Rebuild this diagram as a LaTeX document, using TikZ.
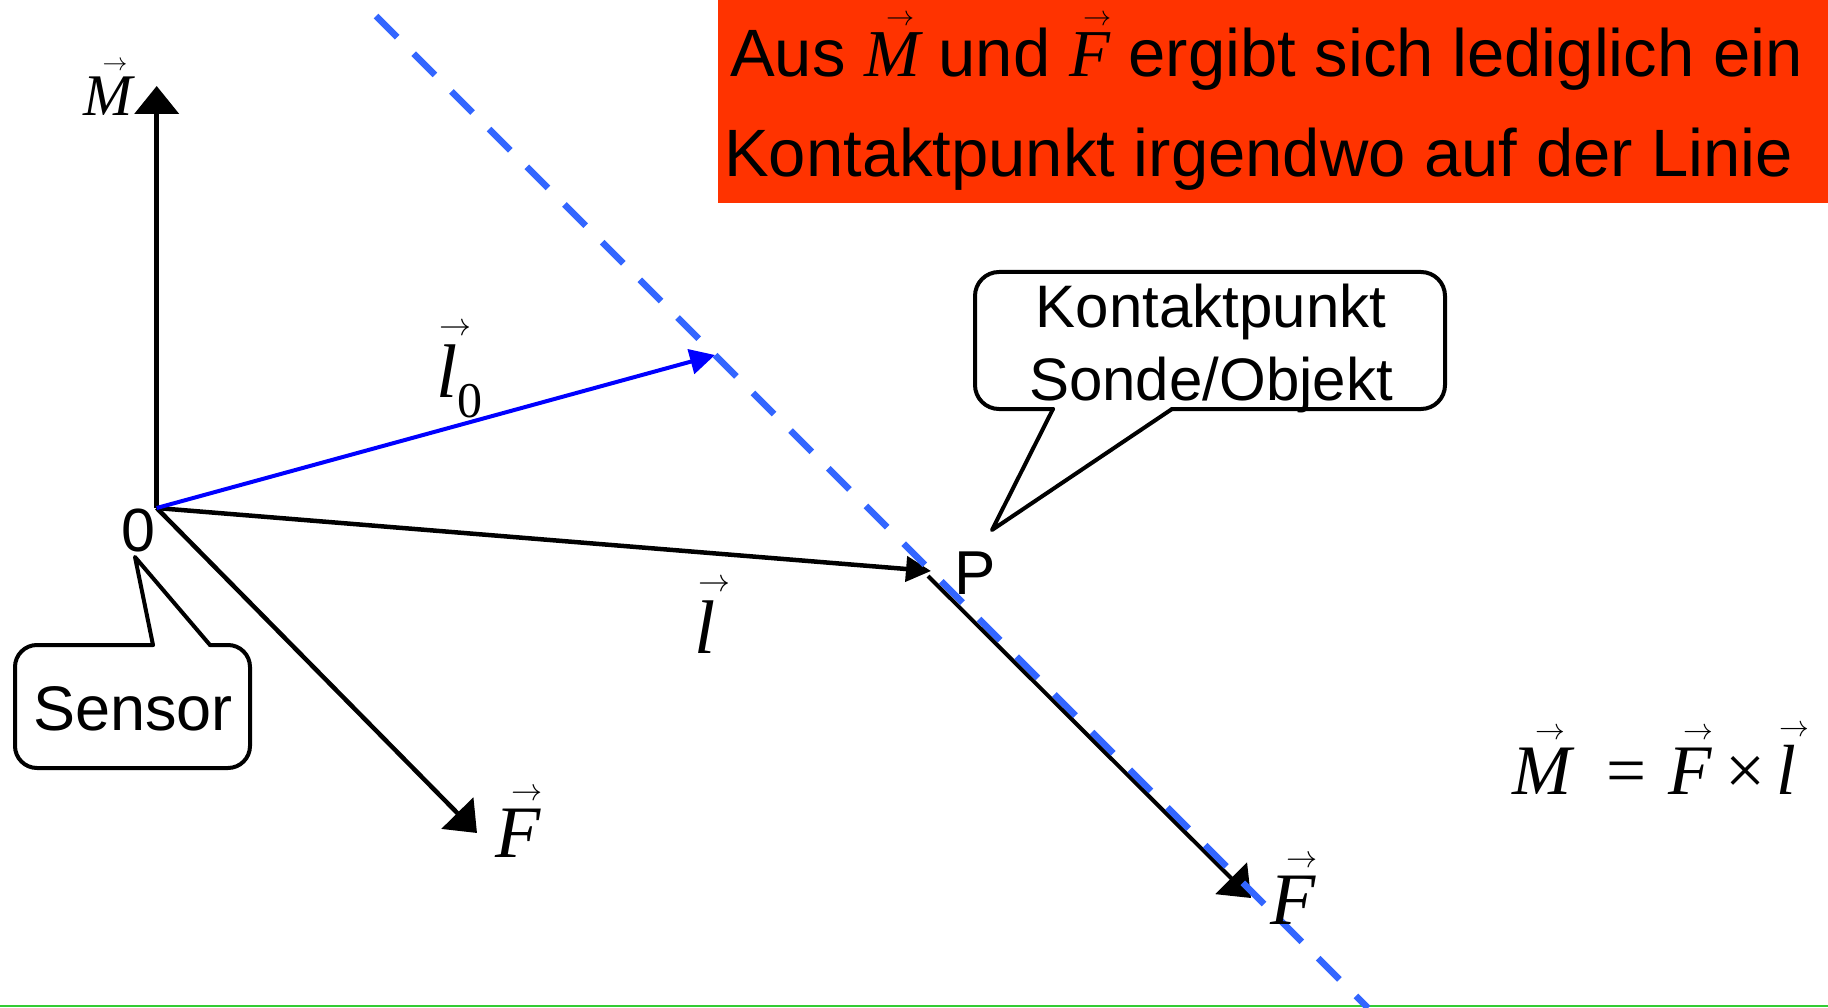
\documentclass[tikz,border=0pt]{standalone}
\usepackage{fontspec}
\usepackage{graphicx}
\setmainfont{Liberation Sans}
\newfontfamily\tms{Liberation Serif}
\usetikzlibrary{arrows.meta}
\definecolor{redbox}{HTML}{FF3300}
\definecolor{dashblue}{HTML}{3366FF}
\definecolor{lblue}{HTML}{0000FF}
\definecolor{gline}{HTML}{33CC33}
\newcommand\fs[1]{\fontsize{#1}{#1}\selectfont}
\newsavebox\vecglyph
\newcommand\vecit[1]{\leavevmode\sbox\vecglyph{\tms\itshape #1}%
  \rlap{\hbox to \wd\vecglyph{\hss\raisebox{\dimexpr\ht\vecglyph+0.11em\relax}{\resizebox{0.42em}{!}{$\rightarrow$}}\hss\kern-0.24em}}%
  \usebox\vecglyph\relax}
\begin{document}
\begin{tikzpicture}[x=1pt,y=-1pt,
  lbl/.style={inner sep=0pt, anchor=base},
  bigtip/.style={-{Triangle[length=28pt,width=44pt]}},
  smalltip/.style={-{Triangle[length=25pt,width=25pt]}},
  vecline/.style={line width=4.5pt},
  callout/.style={line width=4pt, line cap=round, line join=round},
  dashline/.style={dashblue, line width=6.5pt, dash pattern=on 30pt off 23.3pt}]
\useasboundingbox (0,0) rectangle (1828,1008);
% red box
\fill[redbox] (718,0) rectangle (1828,203);
\node[lbl, anchor=base west, font=\fs{67}] (t1) at (730,77) {Aus \vecit{M} und \vecit{F} ergibt sich lediglich ein};
\node[lbl, anchor=base west, font=\fs{67}] (t2) at (724,177) {Kontaktpunkt irgendwo auf der Linie};
% coordinates
\coordinate (O) at (156.7,508);
\coordinate (Mtip) at (156.7,86);
\coordinate (L0) at (715,355);
\coordinate (P) at (931,571);
\coordinate (Pf) at (928,576);
\coordinate (F1) at (477,833);
\coordinate (F2) at (1251,898);
\coordinate (d1) at (376,16);
\coordinate (d2) at (1368,1008);
\coordinate (g1) at (0,1006);
\coordinate (g2) at (1828,1006);
% green line
\draw[gline, line width=2pt] (g1) -- (g2);
% vectors
\draw[vecline, bigtip] (O) -- (Mtip);
\draw[vecline, bigtip] (O) -- (F1);
\draw[vecline, smalltip] (O) -- (P);
\draw[line width=4pt, lblue, smalltip] (O) -- (L0);
\draw[line width=4pt, bigtip] (Pf) -- (F2);
% dashed line of action
\draw[dashline] (d1) -- (d2);
% Sensor callout
\coordinate (s1) at (153,645);
\coordinate (s2) at (210,645);
\coordinate (stip) at (135,557);
\draw[callout, rounded corners=22pt] (s2) -- (250,645) -- (250,768) -- (15,768) -- (15,645) -- (s1);
\draw[callout] (s1) -- (stip) -- (s2);
\node[lbl, font=\fs{63}] (sensor) at (133,730) {Sensor};
% Kontaktpunkt callout
\coordinate (k1) at (1053,409);
\coordinate (k2) at (1172,409);
\coordinate (ktip) at (992,530);
\draw[callout, rounded corners=24pt] (k2) -- (1445,409) -- (1445,272) -- (975,272) -- (975,409) -- (k1);
\draw[callout] (k1) -- (ktip) -- (k2);
\node[lbl, font=\fs{60}] (kp1) at (1211,327) {Kontaktpunkt};
\node[lbl, font=\fs{60}] (kp2) at (1211,400) {Sonde/Objekt};
% labels
\node[lbl, font=\fs{59}] (Mlab) at (108,116) {\vecit{M}};
\node[lbl, anchor=base west, font=\fs{76}] (l0lab) at (436,397) {\vecit{l}\raisebox{-20pt}{\fs{50}\tms 0}};
\node[lbl, font=\fs{76}] (llab) at (705,653) {\vecit{l}};
\node[lbl, font=\fs{74}] (F1lab) at (518,857) {\vecit{F}};
\node[lbl, font=\fs{74}] (F2lab) at (1293,924) {\vecit{F}};
\node[lbl, font=\fs{61}] (zero) at (138.5,551.7) {0};
\node[lbl, font=\fs{62}] (Plab) at (975,594) {P};
\node[lbl, anchor=base west, font=\fs{71}\tms] (formula) at (1512,794) {\vecit{M}\kern0.5em=\kern0.3em\vecit{F}\kern0.2em×\kern0.15em\vecit{l}};
\end{tikzpicture}
\end{document}
